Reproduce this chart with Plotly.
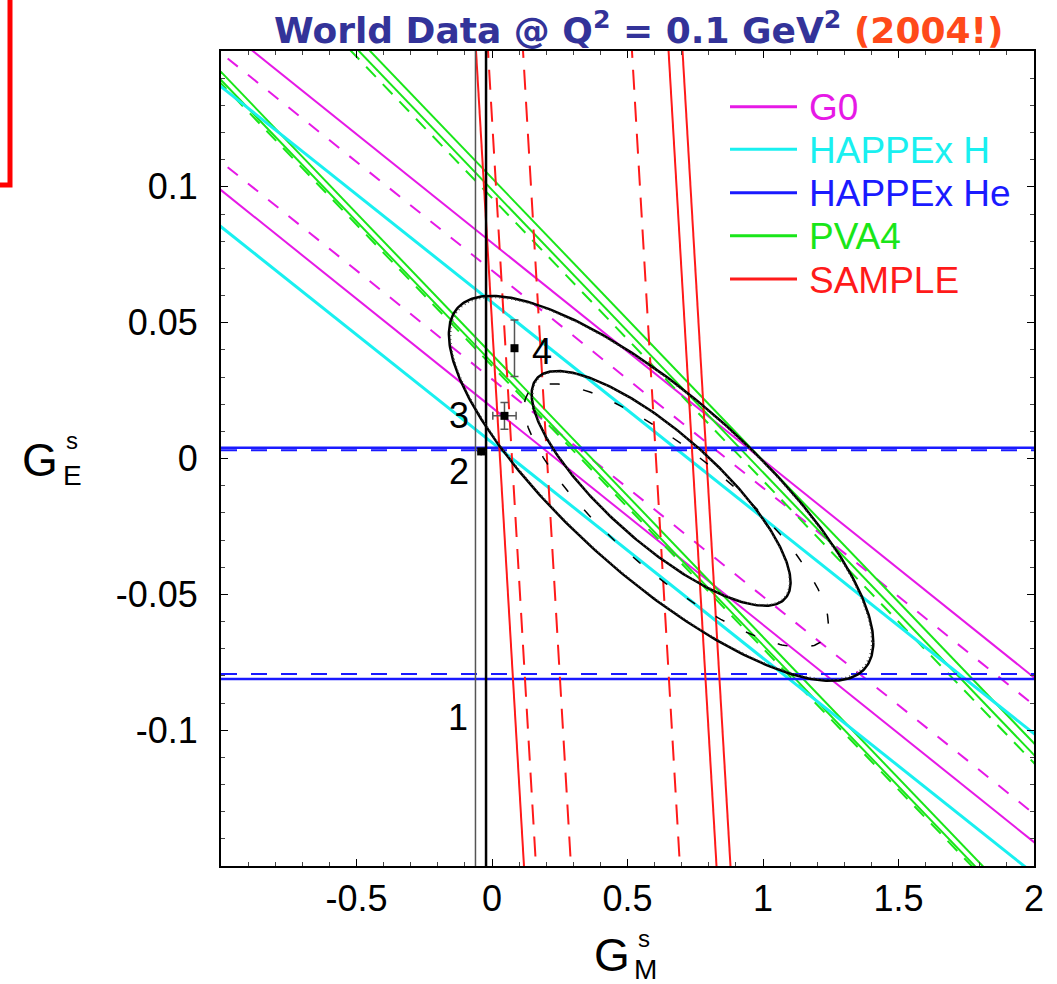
import numpy as np
import plotly.graph_objects as go

# ---------------- data ----------------
# slanted bands: G_E = intercept + slope * G_M
g0_slope = -0.080
g0_solid = [0.0794, 0.0188]
g0_dashed = [0.0692, 0.0292]

happex_h_slope = -0.0794
happex_h_solid = [0.0575, 0.0059]

pva4_slope = -0.104
pva4_solid = [0.1032, 0.0989, 0.0383, 0.0353]
pva4_dashed = [0.0959, 0.0341]

# HAPPEx He: horizontal limits on G_E
happex_he_solid = [0.0040, -0.0812]
happex_he_dashed = [0.0030, -0.0793]

# SAMPLE: near-vertical, G_M = offset + tilt * G_E
sample_tilt = -0.59
sample_solid = [0.0295, 0.740, 0.7915]
sample_dashed = [0.0738, 0.203, 0.605]

# vertical reference lines in G_M
vert_lines = [-0.061, -0.022]

# combined fit: centre, widths, correlation
fit_center = (0.624, -0.011)
fit_sigma = (0.315, 0.0285)
fit_rho = -0.80
fit_levels = [2.30, 6.18]          # chi^2 for 68% and 95% CL (2 dof)
alt_center = (0.68, -0.021)
alt_sigma = (0.37, 0.032)
alt_rho = -0.82
alt_level = 2.30

# individual points
pt_gm = [-0.040, 0.046, 0.083]
pt_ge = [0.0026, 0.0157, 0.0406]
pt_gm_err = [0.0, 0.043, 0.0]
pt_ge_err = [0.0, 0.0049, 0.0104]

num_labels = ["1", "2", "3", "4"]
num_gm = [-0.127, -0.120, -0.120, 0.183]
num_ge = [-0.0953, -0.0049, 0.0160, 0.0395]

legend_names = ["G0", "HAPPEx H", "HAPPEx He", "PVA4", "SAMPLE"]
legend_colors = ["#e619e6", "#19f0f0", "#1a1aff", "#19e619", "#ff1a1a"]

x_ticks = [-0.5, 0, 0.5, 1, 1.5, 2]
x_ticktext = ["-0.5", "0", "0.5", "1", "1.5", "2"]
y_ticks = [-0.1, -0.05, 0, 0.05, 0.1]
y_ticktext = ["-0.1", "-0.05", "0", "0.05", "0.1"]

X_RANGE = [-1, 2]
Y_RANGE = [-0.15, 0.15]

MAG, CYA, BLU, GRN, RED = legend_colors

fig = go.Figure()


def slanted(intercept, slope, color, dash, width):
    gm = np.array([-1.2, 2.2])
    fig.add_trace(go.Scatter(x=gm, y=intercept + slope * gm, mode="lines",
                             line=dict(color=color, width=width, dash=dash),
                             hoverinfo="skip", showlegend=False))


def horizontal(level, color, dash, width):
    fig.add_trace(go.Scatter(x=X_RANGE, y=[level, level], mode="lines",
                             line=dict(color=color, width=width, dash=dash),
                             hoverinfo="skip", showlegend=False))


def steep(offset, tilt, color, dash, width):
    ge = np.array([-0.17, 0.17])
    fig.add_trace(go.Scatter(x=offset + tilt * ge, y=ge, mode="lines",
                             line=dict(color=color, width=width, dash=dash),
                             hoverinfo="skip", showlegend=False))


def ellipse(center, sigma, rho, chi2, color, dash, width):
    t = np.linspace(0, 2 * np.pi, 361)
    s = np.sqrt(chi2)
    gm = center[0] + s * sigma[0] * np.cos(t)
    ge = center[1] + s * sigma[1] * (rho * np.cos(t) + np.sqrt(1 - rho ** 2) * np.sin(t))
    fig.add_trace(go.Scatter(x=gm, y=ge, mode="lines",
                             line=dict(color=color, width=width, dash=dash),
                             hoverinfo="skip", showlegend=False))


# G0
for b in g0_dashed:
    slanted(b, g0_slope, MAG, "13px,13px", 2)
for b in g0_solid:
    slanted(b, g0_slope, MAG, "solid", 2)
# PVA4
for b in pva4_dashed:
    slanted(b, pva4_slope, GRN, "14px,10px", 2)
for b in pva4_solid:
    slanted(b, pva4_slope, GRN, "solid", 2)
# HAPPEx H
for b in happex_h_solid:
    slanted(b, happex_h_slope, CYA, "solid", 3)
# HAPPEx He
for v in happex_he_dashed:
    horizontal(v, BLU, "16px,14px", 2)
for v in happex_he_solid:
    horizontal(v, BLU, "solid", 2.5)
# SAMPLE
for c in sample_dashed:
    steep(c, sample_tilt, RED, "20px,12px", 2)
for c in sample_solid:
    steep(c, sample_tilt, RED, "solid", 2)

# vertical lines
for i, xv in enumerate(vert_lines):
    fig.add_trace(go.Scatter(x=[xv, xv], y=Y_RANGE, mode="lines",
                             line=dict(color="#555555" if i == 0 else "black",
                                       width=1.5 if i == 0 else 2.5),
                             hoverinfo="skip", showlegend=False))

# fit contours
ellipse(alt_center, alt_sigma, alt_rho, alt_level, "black", "10px,24px", 1.5)
for lev in fit_levels:
    ellipse(fit_center, fit_sigma, fit_rho, lev, "black", "solid", 2.5)
    ellipse(fit_center, fit_sigma, fit_rho, lev * 0.985, "#444444", "1px,3px", 1.5)

# points with error bars
fig.add_trace(go.Scatter(
    x=pt_gm, y=pt_ge, mode="markers",
    marker=dict(symbol="square", size=8, color="black"),
    error_y=dict(type="data", array=pt_ge_err, visible=True, color="#555555",
                 thickness=1.5, width=4),
    error_x=dict(type="data", array=pt_gm_err, visible=True, color="#555555",
                 thickness=1.5, width=4),
    hoverinfo="skip", showlegend=False))

# point numbers
for lab, xv, yv in zip(num_labels, num_gm, num_ge):
    fig.add_annotation(x=xv, y=yv, text=lab, showarrow=False,
                       font=dict(family="Liberation Sans", size=36, color="black"),
                       xanchor="center", yanchor="middle")

# ---------------- layout geometry ----------------
W, H = 1057, 984
L, R, T, B = 221, 23, 51, 118
PW, PH = W - L - R, H - T - B


def px(xpix):
    return (xpix - L) / PW


def py(ypix):
    return (H - B - ypix) / PH


# legend drawn by hand
leg_rows = [106.7, 149.3, 192.7, 235.7, 279.0]
for name, col, yr in zip(legend_names, legend_colors, leg_rows):
    fig.add_shape(type="line", xref="paper", yref="paper",
                  x0=px(730), x1=px(797), y0=py(yr), y1=py(yr),
                  line=dict(color=col, width=3))
    fig.add_annotation(xref="paper", yref="paper", x=px(807), y=py(yr + 1),
                       text=name, showarrow=False, xanchor="left", yanchor="middle",
                       font=dict(family="Liberation Sans", size=37, color=col))

# title
fig.add_annotation(
    xref="paper", yref="paper", x=px(638), y=py(28), showarrow=False,
    xanchor="center", yanchor="middle",
    text="World Data @ Q<sup>2</sup> = 0.1 GeV<sup>2</sup> "
         "<span style='color:#ff4a1a'>(2004!)</span>",
    font=dict(family="DejaVu Sans", size=36, color="#333399", weight="bold"))

# axis titles: G with stacked super/subscript
AX_FONT = "Liberation Sans"
fig.add_annotation(xref="paper", yref="paper", x=px(40), y=py(460), text="G",
                   showarrow=False, xanchor="center", yanchor="middle",
                   font=dict(family=AX_FONT, size=46, color="black"))
fig.add_annotation(xref="paper", yref="paper", x=px(72), y=py(440), text="s",
                   showarrow=False, xanchor="center", yanchor="middle",
                   font=dict(family=AX_FONT, size=24, color="black"))
fig.add_annotation(xref="paper", yref="paper", x=px(72), y=py(475), text="E",
                   showarrow=False, xanchor="center", yanchor="middle",
                   font=dict(family=AX_FONT, size=28, color="black"))

fig.add_annotation(xref="paper", yref="paper", x=px(612), y=py(955), text="G",
                   showarrow=False, xanchor="center", yanchor="middle",
                   font=dict(family=AX_FONT, size=46, color="black"))
fig.add_annotation(xref="paper", yref="paper", x=px(644), y=py(938), text="s",
                   showarrow=False, xanchor="center", yanchor="middle",
                   font=dict(family=AX_FONT, size=24, color="black"))
fig.add_annotation(xref="paper", yref="paper", x=px(645), y=py(970), text="M",
                   showarrow=False, xanchor="center", yanchor="middle",
                   font=dict(family=AX_FONT, size=28, color="black"))

# red frame corner at the upper left
fig.add_shape(type="rect", xref="paper", yref="paper",
              x0=px(-30), x1=px(10), y0=py(185), y1=py(-30),
              line=dict(color="#ff0000", width=5))

axis_common = dict(showgrid=False, zeroline=False, showline=True, linecolor="black",
                   linewidth=2, mirror="ticks", ticks="inside", ticklen=7,
                   tickcolor="black", tickwidth=1,
                   tickfont=dict(family="Liberation Sans", size=36, color="black"))

fig.update_layout(
    width=W, height=H, autosize=False,
    margin=dict(l=L, r=R, t=T, b=B),
    paper_bgcolor="white", plot_bgcolor="white",
    showlegend=False,
    xaxis=dict(range=X_RANGE, tickvals=x_ticks, ticktext=x_ticktext,
               minor=dict(dtick=0.1, tick0=0, ticks="inside", ticklen=4, tickcolor="#444444"),
               ticklabelstandoff=0, **axis_common),
    yaxis=dict(range=Y_RANGE, tickvals=y_ticks, ticktext=y_ticktext,
               minor=dict(dtick=0.01, tick0=0, ticks="inside", ticklen=4, tickcolor="#444444"),
               ticklabelstandoff=14, **axis_common),
)

fig.write_html("out.html")
